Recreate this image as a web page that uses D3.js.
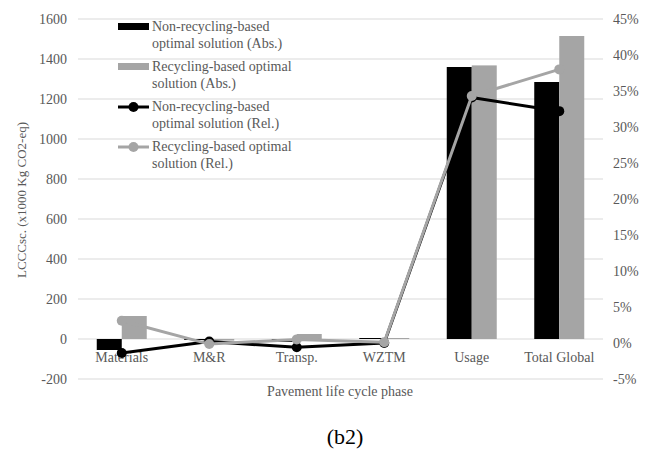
<!DOCTYPE html>
<html><head><meta charset="utf-8">
<script src="https://cdn.jsdelivr.net/npm/d3@7"></script>
<style>body{margin:0;background:#fff}</style>
</head><body>
<svg id="c" width="657" height="463"></svg>
<script>
const categories = ["Materials","M&R","Transp.","WZTM","Usage","Total Global"];
const absNonRec = [-55,-5,-15,5,1360,1285];
const absRec = [115,-8,25,5,1368,1515];
const relNonRec = [-1.4,0.2,-0.6,0.0,34.1,32.2];
const relRec = [3.1,-0.15,0.5,0.1,34.3,38.0];
const leftTicks = [-200,0,200,400,600,800,1000,1200,1400,1600];
const rightTicks = [-5,0,5,10,15,20,25,30,35,40,45];
const legendLabels = [
  ["Non-recycling-based","optimal solution (Abs.)"],
  ["Recycling-based optimal","solution (Abs.)"],
  ["Non-recycling-based","optimal solution (Rel.)"],
  ["Recycling-based optimal","solution (Rel.)"]
];

const BLACK="#000", GRAY="#a5a5a5", TXT="#595959", GRID="#d9d9d9";
const FONT="'Liberation Serif','Times New Roman',serif";
const svg=d3.select("#c");
const L=78,R=603,T=19,B=379;
const x=d3.scaleBand().domain(categories).range([L,R]).paddingInner(0.4286).paddingOuter(0.2143);
const xs=d3.scaleBand().domain([0,1]).range([0,x.bandwidth()]);
const y=d3.scaleLinear().domain([-200,1600]).range([B,T]);
const y2=d3.scaleLinear().domain([-5,45]).range([B,T]);
const xc=c=>x(c)+x.bandwidth()/2;

// gridlines
svg.append("g").selectAll("line").data(leftTicks).join("line")
  .attr("x1",L).attr("x2",R).attr("y1",d=>y(d)).attr("y2",d=>y(d))
  .attr("stroke",GRID).attr("stroke-width",1);

// left axis labels
const ya=d3.axisLeft(y).tickValues(leftTicks).tickSize(0).tickPadding(0).tickFormat(d=>String(d));
const gy=svg.append("g").attr("transform",`translate(${L-11},0)`).call(ya);
gy.select(".domain").remove();
gy.selectAll("text").attr("fill",TXT).attr("font-family",FONT).attr("font-size",14);

const ya2=d3.axisRight(y2).tickValues(rightTicks).tickSize(0).tickPadding(0).tickFormat(d=>String(d)+"%");
const gy2=svg.append("g").attr("transform",`translate(${R+10},0)`).call(ya2);
gy2.select(".domain").remove();
gy2.selectAll("text").attr("fill",TXT).attr("font-family",FONT).attr("font-size",14);

// bars
const series=[absNonRec,absRec], colors=[BLACK,GRAY];
series.forEach((s,i)=>{
  svg.append("g").selectAll("rect").data(categories).join("rect")
    .attr("x",c=>x(c)+xs(i)).attr("width",xs.bandwidth())
    .attr("y",(c,j)=>Math.min(y(s[j]),y(0)))
    .attr("height",(c,j)=>Math.abs(y(s[j])-y(0)))
    .attr("fill",colors[i]);
});

// x labels
svg.append("g").selectAll("text").data(categories).join("text")
  .attr("x",c=>xc(c)).attr("y",362).attr("text-anchor","middle")
  .attr("fill",TXT).attr("font-family",FONT).attr("font-size",14).text(c=>c);

// lines
[[relNonRec,BLACK],[relRec,GRAY]].forEach(([s,col])=>{
  const line=d3.line().x((d,j)=>xc(categories[j])).y(d=>y2(d));
  svg.append("path").datum(s).attr("d",line).attr("fill","none")
    .attr("stroke",col).attr("stroke-width",3).attr("stroke-linejoin","round");
  svg.append("g").selectAll("circle").data(s).join("circle")
    .attr("cx",(d,j)=>xc(categories[j])).attr("cy",d=>y2(d)).attr("r",5).attr("fill",col);
});

// legend
const lg=svg.append("g");
legendLabels.forEach((lbl,i)=>{
  const cy=26+i*40;
  const col=i%2===0?BLACK:GRAY;
  if(i<2){
    lg.append("rect").attr("x",118).attr("y",cy-3).attr("width",31).attr("height",7).attr("fill",col);
  } else {
    lg.append("line").attr("x1",118).attr("x2",149).attr("y1",cy+1).attr("y2",cy+1).attr("stroke",col).attr("stroke-width",3);
    lg.append("circle").attr("cx",133.5).attr("cy",cy+1).attr("r",5).attr("fill",col);
  }
  lbl.forEach((t,k)=>{
    lg.append("text").attr("x",152).attr("y",cy+5+k*17).attr("fill",TXT)
      .attr("font-family",FONT).attr("font-size",14).text(t);
  });
});

// axis titles
svg.append("text").attr("transform","translate(26,200) rotate(-90)").attr("text-anchor","middle")
  .attr("fill",TXT).attr("font-family",FONT).attr("font-size",13).text("LCCCsc. (x1000 Kg CO2-eq)");
svg.append("text").attr("x",340).attr("y",396).attr("text-anchor","middle")
  .attr("fill",TXT).attr("font-family",FONT).attr("font-size",14).text("Pavement life cycle phase");
svg.append("text").attr("x",345).attr("y",444).attr("text-anchor","middle")
  .attr("fill","#000").attr("font-family",FONT).attr("font-size",22).text("(b2)");
</script>
</body></html>
